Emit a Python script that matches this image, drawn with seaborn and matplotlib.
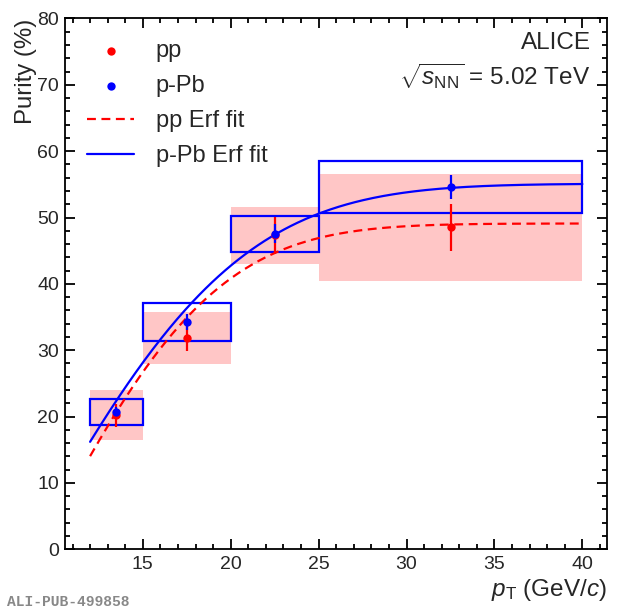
import math
import numpy as np
import seaborn as sns
import matplotlib.pyplot as plt

# Bins in pT (GeV/c)
bin_lo = [12, 15, 20, 25]
bin_hi = [15, 20, 25, 40]
bin_center = [13.5, 17.5, 22.5, 32.5]

# pp purity (%)
pp_val = [20.2, 31.8, 47.3, 48.5]
pp_stat = [1.7, 1.9, 2.8, 3.5]
pp_syst = [3.8, 3.9, 4.25, 8.05]

# p-Pb purity (%)
ppb_val = [20.7, 34.2, 47.55, 54.6]
ppb_stat = [0.8, 1.2, 1.4, 1.8]
ppb_syst = [2.0, 2.85, 2.75, 3.9]

# Erf fit parameters: A * erf((x - x0) / s)
pp_fit = [49.1, 9.1, 11.2]
ppb_fit = [55.1, 8.4, 13.5]
fit_range = [12, 40]

sns.set_style("ticks")
plt.rcParams['font.family'] = ['Liberation Sans', 'DejaVu Sans']
plt.rcParams['mathtext.fontset'] = 'custom'
plt.rcParams['mathtext.rm'] = 'Liberation Sans'
plt.rcParams['mathtext.it'] = 'Liberation Sans:italic'

fig = plt.figure(figsize=(6.2, 6.12), dpi=100)
ax = fig.add_axes([0.1056, 0.1025, 0.8734, 0.8673])

red = '#ff0000'
blue = '#0000ff'
pink = '#ffc6c6'

# systematic boxes
lo = np.array(bin_lo)
width = np.array(bin_hi) - lo
ax.bar(lo, 2 * np.array(pp_syst), bottom=np.array(pp_val) - np.array(pp_syst),
       width=width, align='edge', color=pink, linewidth=0, zorder=1)
ax.bar(lo, 2 * np.array(ppb_syst), bottom=np.array(ppb_val) - np.array(ppb_syst),
       width=width, align='edge', fill=False, edgecolor=blue, linewidth=1.6, zorder=2)

# fits
xs = np.linspace(fit_range[0], fit_range[1], 300)
erf = np.vectorize(math.erf)
pp_curve = pp_fit[0] * erf((xs - pp_fit[1]) / pp_fit[2])
ppb_curve = ppb_fit[0] * erf((xs - ppb_fit[1]) / ppb_fit[2])
sns.lineplot(x=xs, y=pp_curve, ax=ax, color=red, linestyle=(0, (4, 2.5)),
             linewidth=1.6, zorder=3, label='pp Erf fit')
sns.lineplot(x=xs, y=ppb_curve, ax=ax, color=blue, linewidth=1.6,
             zorder=3, label='p-Pb Erf fit')

# points with stat errors
ax.errorbar(bin_center, pp_val, yerr=pp_stat, fmt='none', ecolor=red,
            elinewidth=1.6, capsize=0, zorder=4)
ax.errorbar(bin_center, ppb_val, yerr=ppb_stat, fmt='none', ecolor=blue,
            elinewidth=1.6, capsize=0, zorder=5)
sns.scatterplot(x=bin_center, y=pp_val, ax=ax, color=red, s=36,
                linewidth=0, zorder=6, label='pp')
sns.scatterplot(x=bin_center, y=ppb_val, ax=ax, color=blue, s=36,
                linewidth=0, zorder=7, label='p-Pb')

ax.set_xlim(10.6, 41.4)
ax.set_ylim(0, 80)
ax.set_xticks([15, 20, 25, 30, 35, 40])
ax.set_xticks(np.arange(11, 42, 1), minor=True)
ax.set_yticks(np.arange(0, 81, 10))
ax.set_yticks(np.arange(0, 81, 2), minor=True)
ax.tick_params(which='both', direction='in', top=True, right=True,
               labelsize=14, width=1.3, color='black', pad=4.5)
ax.tick_params(which='major', length=7.5)
ax.tick_params(which='minor', length=3.8)
for s in ax.spines.values():
    s.set_linewidth(1.3)
    s.set_color('black')

ax.set_xlabel(r'$p_{\mathrm{T}}$ (GeV/$c$)', fontsize=17.5, loc='right', labelpad=3)
ax.set_ylabel('Purity (%)', fontsize=17.3, loc='top', labelpad=0)

# legend ordering as in reference
h, l = ax.get_legend_handles_labels()
order = [l.index('pp'), l.index('p-Pb'), l.index('pp Erf fit'), l.index('p-Pb Erf fit')]
ax.legend([h[i] for i in order], [l[i] for i in order], loc='upper left',
          bbox_to_anchor=(0.04, 0.96), frameon=False, fontsize=17,
          handlelength=2.0, handletextpad=0.9, labelspacing=0.56,
          borderpad=0, borderaxespad=0, markerscale=1.0)

ax.text(0.971, 0.953, 'ALICE', transform=ax.transAxes, ha='right', va='center',
        fontsize=17.5)
ax.text(0.969, 0.892, r'$\sqrt{s_{\mathrm{NN}}}$ = 5.02 TeV', transform=ax.transAxes,
        ha='right', va='center', fontsize=17.5)

fig.text(0.011, 0.017, 'ALI-PUB-499858', ha='left', va='center', fontsize=10.5,
         color='#888888', family='Liberation Mono', weight='bold')

fig.savefig('out.png', dpi=100)
